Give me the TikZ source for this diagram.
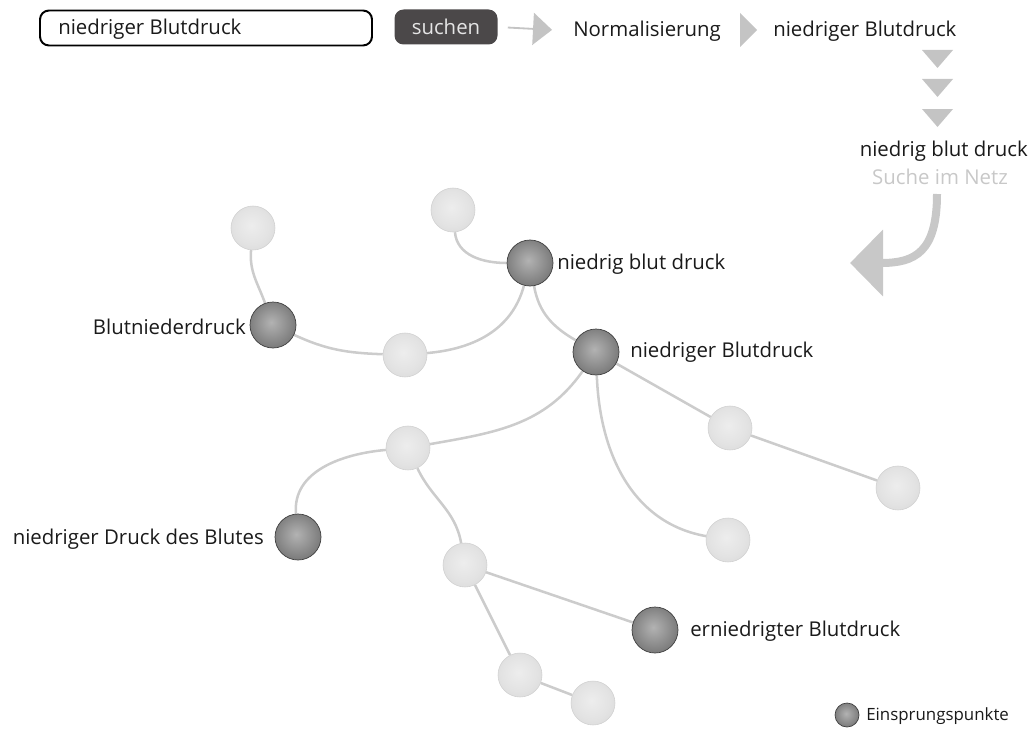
\documentclass[tikz,border=0pt]{standalone}
\usepackage{fontspec}
\setmainfont{Open Sans}
\usetikzlibrary{arrows.meta,backgrounds}

\definecolor{linkgray}{HTML}{CCCCCC}
\definecolor{tipgray}{HTML}{C4C4C4}
\definecolor{btngray}{HTML}{4B4849}
\definecolor{hintgray}{HTML}{C8C8C8}
\definecolor{txt}{HTML}{1A1A1A}

% shaded spheres: entry points (dark) and other pages (light)
\pgfdeclareradialshading{darkball}{\pgfpoint{-2bp}{3bp}}{%
  color(0bp)=(black!30); color(18bp)=(black!45); color(38bp)=(black!62); color(50bp)=(black!72)}
\pgfdeclareradialshading{lightball}{\pgfpoint{-2bp}{3bp}}{%
  color(0bp)=(black!7); color(20bp)=(black!11); color(40bp)=(black!17); color(50bp)=(black!20)}

\tikzset{
  lbl/.style={font=\fontsize{14.5}{17}\selectfont, text=txt, inner sep=0pt},
  entry/.style={circle, minimum size=46*0.025cm, inner sep=0pt, shading=darkball, draw=black!75, line width=0.5pt},
  page/.style={circle, minimum size=44*0.025cm, inner sep=0pt, shading=lightball, draw=black!18, line width=0.4pt},
  link/.style={draw=linkgray, line width=1.8pt},
  tri/.style={fill=tipgray},
}

\begin{document}
\begin{tikzpicture}[x=0.025cm, y=-0.025cm]
\useasboundingbox (0,0) rectangle (1031,729);

% search field and button
\node[draw=black, line width=1.4pt, rounded corners=9*0.025cm, minimum width=332*0.025cm,
      minimum height=35*0.025cm, inner sep=0pt] (field) at (206,28) {};
\node[lbl, anchor=west] (query) at (58,29) {niedriger Blutdruck};
\node[fill=btngray, rounded corners=9*0.025cm, minimum width=103*0.025cm, minimum height=35*0.025cm,
      inner sep=0pt, lbl, text=black!10] (search) at (446,27) {suchen};

% normalisation chain
\node[lbl, anchor=west] (norm) at (573,31) {Normalisierung};
\node[lbl, anchor=west] (normq) at (773,31) {niedriger Blutdruck};
\draw[draw=tipgray, line width=1.3pt, shorten <=10*0.025cm, shorten >=21*0.025cm,
      -{Triangle[width=32*0.025cm, length=19*0.025cm, fill=tipgray]}] (search.east) -- (norm.west);
\fill[tri] (740,13) -- (757,30) -- (740,47) -- cycle;
\foreach \t in {50,79,109}
  \fill[tri] (922,\t) -- (953,\t) -- (937.5,\t+18) -- cycle;
\node[lbl, anchor=east] (tokens) at (1028,151) {niedrig blut druck};
\node[lbl, text=hintgray] (web) at (940,177) {Suche im Netz};

% curved arrow into the result graph
\coordinate (into) at (850,263);
\draw[draw=hintgray, line width=8*0.025cm, -{Triangle[width=65*0.025cm, length=33*0.025cm]}]
  (937,194) .. controls (937,252) and (915,263) .. (into);

% result pages
\node[page]  (p1)  at (253,228) {};
\node[entry] (e1)  at (273,325) {};
\node[page]  (p2)  at (453,210) {};
\node[entry] (e2)  at (530,263) {};
\node[page]  (p3)  at (405,355) {};
\node[entry] (e3)  at (596,352) {};
\node[page]  (p4)  at (408,448) {};
\node[page]  (p5)  at (730,428) {};
\node[page]  (p6)  at (898,488) {};
\node[page]  (p7)  at (728,540) {};
\node[entry] (e4)  at (298,537) {};
\node[page]  (p8)  at (465,565) {};
\node[entry] (e5)  at (655,630) {};
\node[page]  (p9)  at (520,675) {};
\node[page]  (p10) at (593,703) {};

% labels of the entry points
\node[lbl, anchor=west] (t2) at (557,264) {niedrig blut druck};
\node[lbl, anchor=east] (t1) at (246,327) {Blutniederdruck};
\node[lbl, anchor=west] (t3) at (630,352) {niedriger Blutdruck};
\node[lbl, anchor=east] (t4) at (264,539) {niedriger Druck des Blutes};
\node[lbl, anchor=west] (t5) at (690,631) {erniedrigter Blutdruck};

% links between pages
\begin{scope}[on background layer]
\draw[link] (p1) to[out=-95, in=110] (e1);
\draw[link] (e1) to[out=-25, in=178] (p3);
\draw[link] (p3) to[out=5, in=-105] (e2);
\draw[link] (p2) to[out=-85, in=180] (e2);
\draw[link] (e2) to[out=-80, in=150] (e3);
\draw[link] (e3) to[out=-125, in=10] (p4);
\draw[link] (e3) -- (p5);
\draw[link] (p5) -- (p6);
\draw[link] (e3) to[out=-88, in=170] (p7);
\draw[link] (p4) to[out=185, in=95] (e4);
\draw[link] (p4) to[out=-65, in=100] (p8);
\draw[link] (p8) -- (e5);
\draw[link] (p8) -- (p9);
\draw[link] (p9) -- (p10);
\end{scope}

% legend
\node[entry, minimum size=24*0.025cm] (key) at (847,715) {};
\node[lbl, anchor=west, font=\fontsize{12}{14}\selectfont] (keytext) at (866,716) {Einsprungspunkte};
\end{tikzpicture}
\end{document}
